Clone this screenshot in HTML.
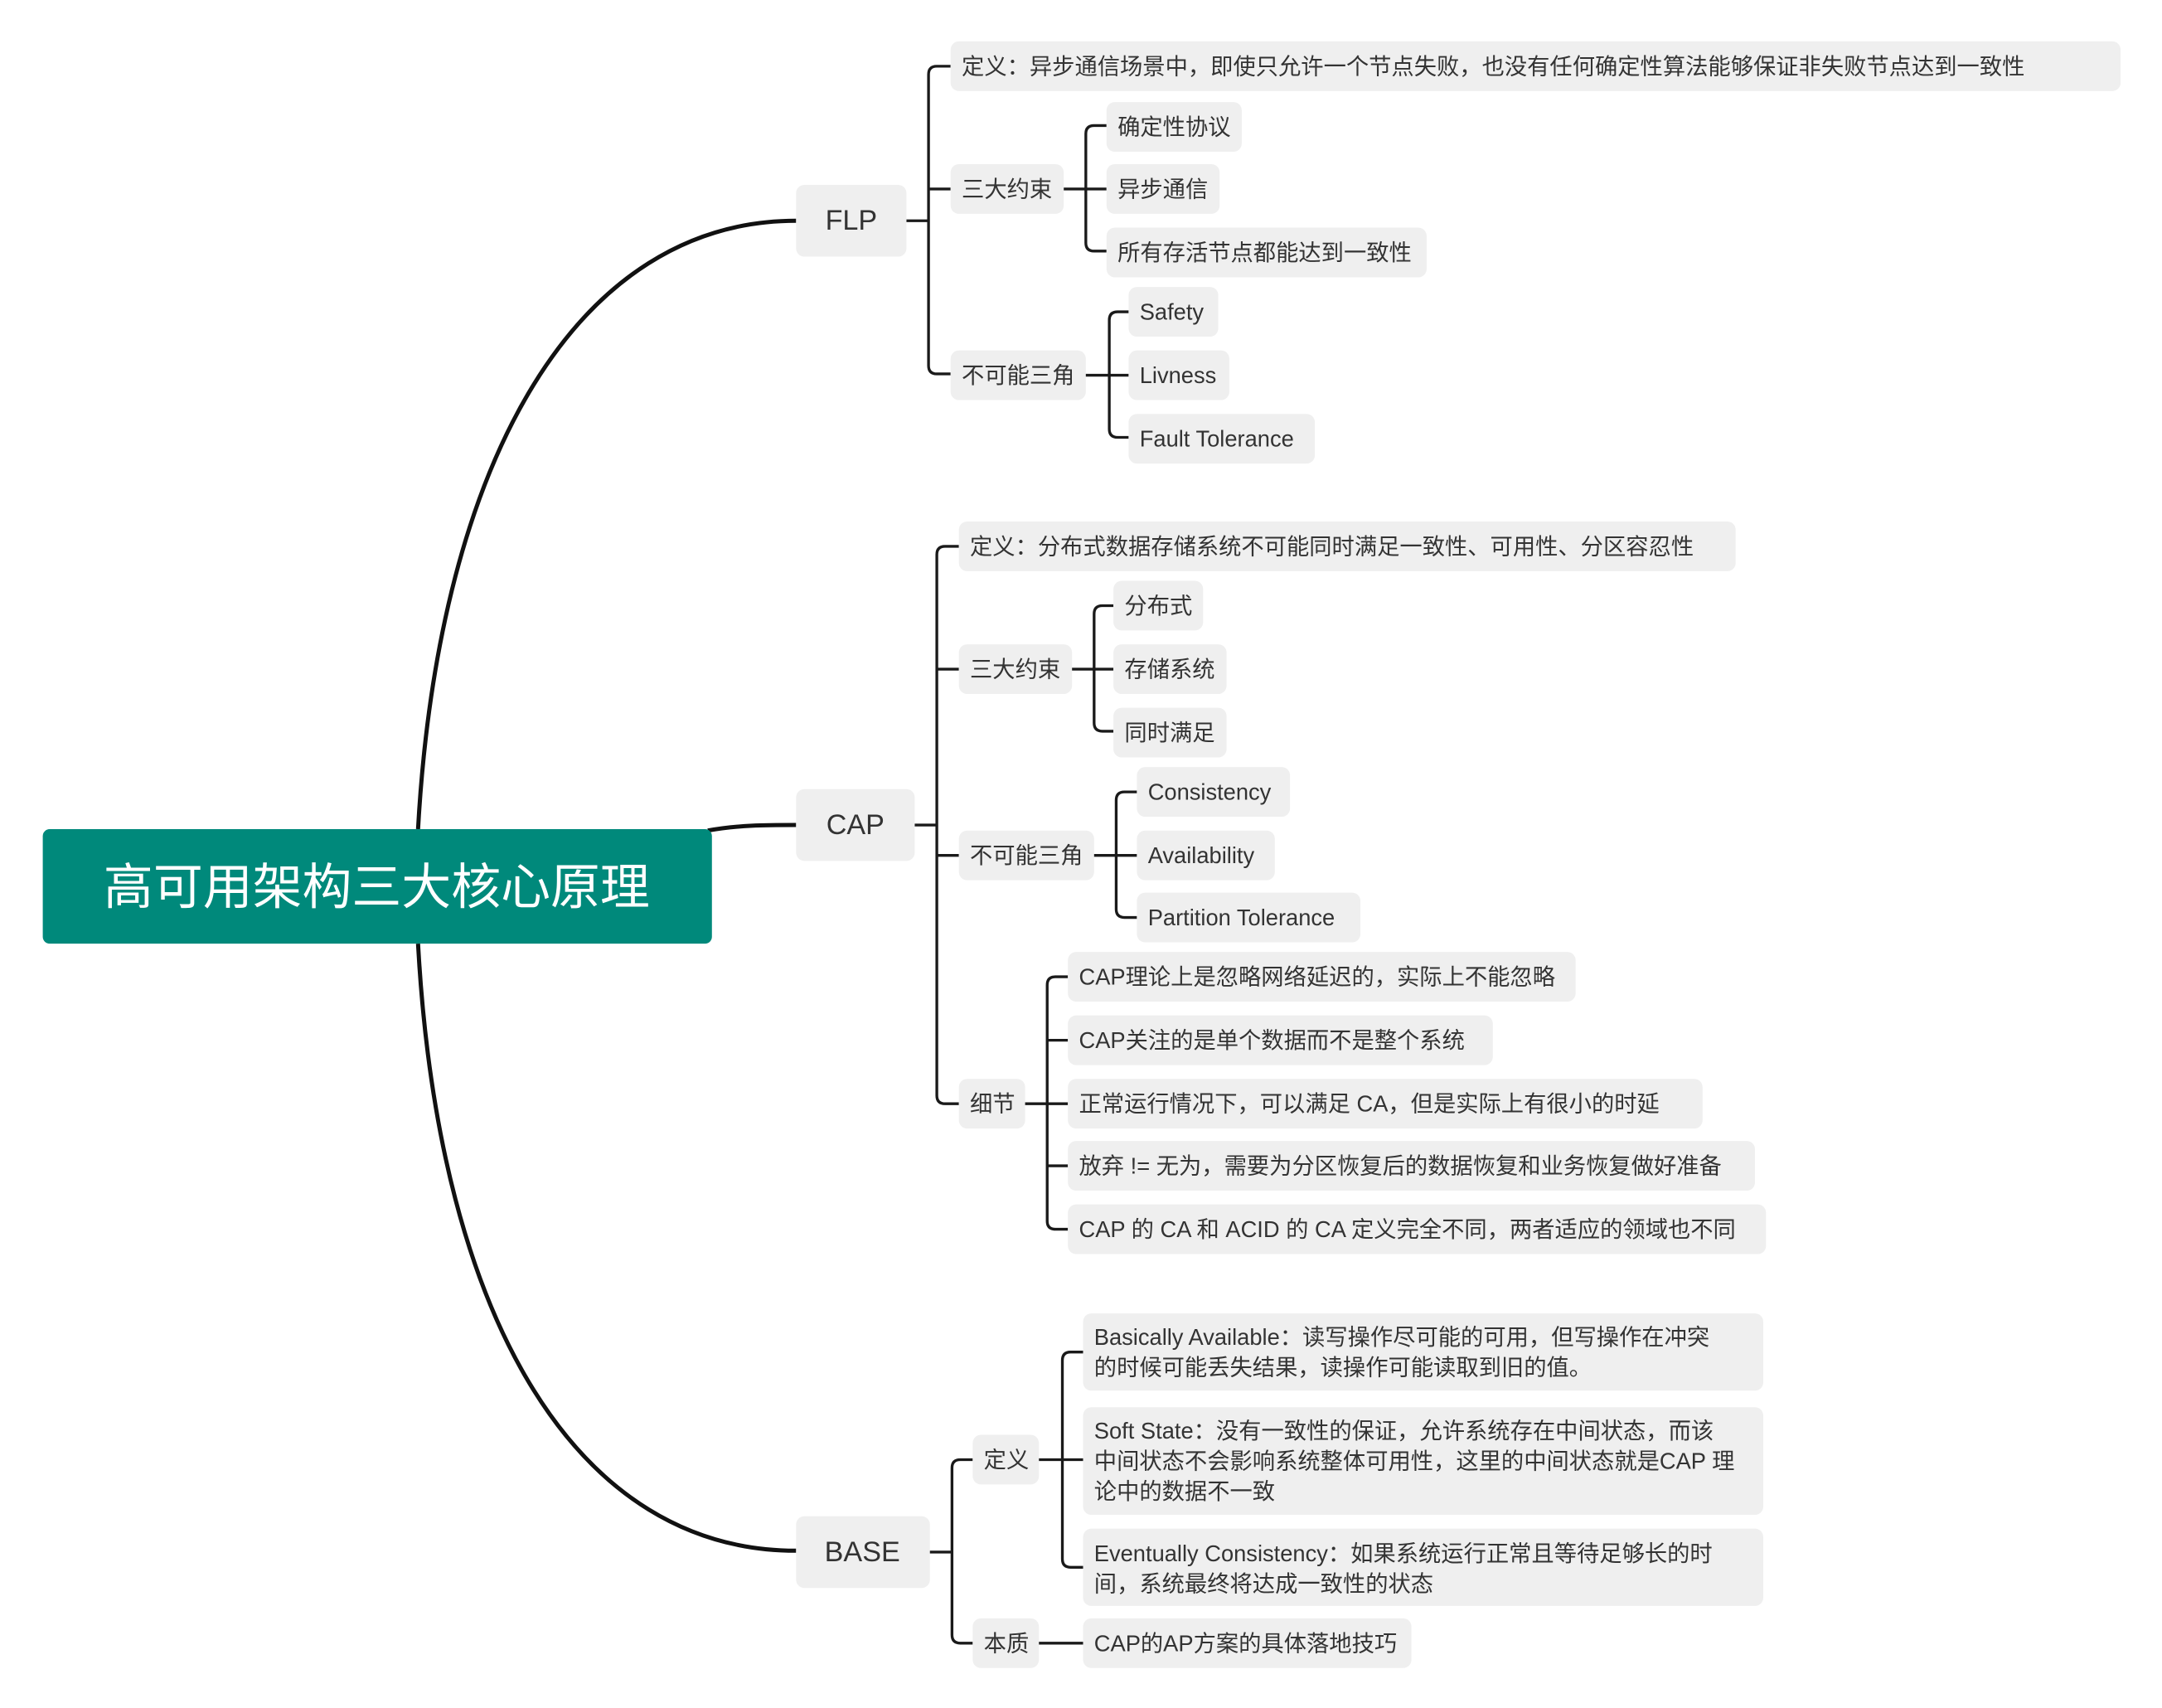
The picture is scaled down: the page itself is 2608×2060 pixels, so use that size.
<!DOCTYPE html>
<html><head><meta charset="utf-8">
<style>
html,body{margin:0;padding:0;background:#fff;}
svg{display:block;}
text{font-family:"Liberation Sans","Noto Sans CJK SC",sans-serif;fill:#333;}
.n{fill:#efefef;}
.t{font-size:16.4px;dominant-baseline:central;}
.m{font-size:20.5px;dominant-baseline:central;}
.l{fill:none;stroke:#1a1a1a;stroke-width:2;}
</style></head><body>
<svg width="2608" height="2060" viewBox="0 0 1567 1238" preserveAspectRatio="none" xmlns="http://www.w3.org/2000/svg">
<rect width="1567" height="1238" fill="#fff"/>
<path d="M303,601 C318,330 420,160 577,160" fill="none" stroke="#111" stroke-width="3"/>
<path d="M513,602 C535,598 555,598 577,598" fill="none" stroke="#111" stroke-width="3"/>
<path d="M303,684 C318,960 420,1124 577,1124" fill="none" stroke="#111" stroke-width="3"/>
<rect x="31" y="601" width="485" height="83" rx="5" fill="#00897b"/>
<text x="273" y="643" text-anchor="middle" dominant-baseline="central" style="font-size:36px;fill:#fff">高可用架构三大核心原理</text>

<rect class="n" x="577" y="134" width="80" height="52" rx="6"/><text class="m" x="617" y="160" text-anchor="middle">FLP</text>
<rect class="n" x="577" y="572" width="86" height="52" rx="6"/><text class="m" x="620" y="598" text-anchor="middle">CAP</text>
<rect class="n" x="577" y="1099" width="97" height="52" rx="6"/><text class="m" x="625" y="1125" text-anchor="middle">BASE</text>

<path class="l" d="M657,160 H673 M673,54 V265 M673,54 Q673,48 679,48 H689 M673,137 H689 M673,265 Q673,271 679,271 H689"/>
<rect class="n" x="689" y="30" width="848" height="36" rx="6"/><text class="t" x="697" y="48">定义：异步通信场景中，即使只允许一个节点失败，也没有任何确定性算法能够保证非失败节点达到一致性</text>
<rect class="n" x="689" y="119" width="82" height="36" rx="6"/><text class="t" x="697" y="137">三大约束</text>
<rect class="n" x="689" y="254" width="98" height="36" rx="6"/><text class="t" x="697" y="272">不可能三角</text>
<path class="l" d="M771,137 H787 M787,97 V176 M787,97 Q787,91 793,91 H802 M787,137 H802 M787,176 Q787,182 793,182 H802"/>
<rect class="n" x="802" y="74" width="98" height="36" rx="6"/><text class="t" x="810" y="92">确定性协议</text>
<rect class="n" x="802" y="119" width="82" height="36" rx="6"/><text class="t" x="810" y="137">异步通信</text>
<rect class="n" x="802" y="165" width="232" height="36" rx="6"/><text class="t" x="810" y="183">所有存活节点都能达到一致性</text>
<path class="l" d="M787,272 H804 M804,232 V311 M804,232 Q804,226 810,226 H818 M804,272 H818 M804,311 Q804,317 810,317 H818"/>
<rect class="n" x="818" y="208" width="65" height="36" rx="6"/><text class="t" x="826" y="226">Safety</text>
<rect class="n" x="818" y="254" width="73" height="36" rx="6"/><text class="t" x="826" y="272">Livness</text>
<rect class="n" x="818" y="300" width="135" height="36" rx="6"/><text class="t" x="826" y="318">Fault Tolerance</text>

<path class="l" d="M663,598 H679 M679,402 V794 M679,402 Q679,396 685,396 H695 M679,485 H695 M679,620 H695 M679,794 Q679,800 685,800 H695"/>
<rect class="n" x="695" y="378" width="563" height="36" rx="6"/><text class="t" x="703" y="396">定义：分布式数据存储系统不可能同时满足一致性、可用性、分区容忍性</text>
<rect class="n" x="695" y="467" width="82" height="36" rx="6"/><text class="t" x="703" y="485">三大约束</text>
<rect class="n" x="695" y="602" width="98" height="36" rx="6"/><text class="t" x="703" y="620">不可能三角</text>
<rect class="n" x="695" y="782" width="48" height="36" rx="6"/><text class="t" x="703" y="800">细节</text>
<path class="l" d="M777,485 H793 M793,445 V524 M793,445 Q793,439 799,439 H807 M793,485 H807 M793,524 Q793,530 799,530 H807"/>
<rect class="n" x="807" y="421" width="65" height="36" rx="6"/><text class="t" x="815" y="439">分布式</text>
<rect class="n" x="807" y="467" width="82" height="36" rx="6"/><text class="t" x="815" y="485">存储系统</text>
<rect class="n" x="807" y="513" width="82" height="36" rx="6"/><text class="t" x="815" y="531">同时满足</text>
<path class="l" d="M793,620 H809 M809,580 V659 M809,580 Q809,574 815,574 H824 M809,620 H824 M809,659 Q809,665 815,665 H824"/>
<rect class="n" x="824" y="556" width="111" height="36" rx="6"/><text class="t" x="832" y="574">Consistency</text>
<rect class="n" x="824" y="602" width="100" height="36" rx="6"/><text class="t" x="832" y="620">Availability</text>
<rect class="n" x="824" y="647" width="162" height="36" rx="6"/><text class="t" x="832" y="665">Partition Tolerance</text>
<path class="l" d="M743,800 H759 M759,714 V885 M759,714 Q759,708 765,708 H774 M759,754 H774 M759,800 H774 M759,845 H774 M759,885 Q759,891 765,891 H774"/>
<rect class="n" x="774" y="690" width="368" height="36" rx="6"/><text class="t" x="782" y="708">CAP理论上是忽略网络延迟的，实际上不能忽略</text>
<rect class="n" x="774" y="736" width="308" height="36" rx="6"/><text class="t" x="782" y="754">CAP关注的是单个数据而不是整个系统</text>
<rect class="n" x="774" y="782" width="460" height="36" rx="6"/><text class="t" x="782" y="800">正常运行情况下，可以满足 CA，但是实际上有很小的时延</text>
<rect class="n" x="774" y="827" width="498" height="36" rx="6"/><text class="t" x="782" y="845">放弃 != 无为，需要为分区恢复后的数据恢复和业务恢复做好准备</text>
<rect class="n" x="774" y="873" width="506" height="36" rx="6"/><text class="t" x="782" y="891">CAP 的 CA 和 ACID 的 CA 定义完全不同，两者适应的领域也不同</text>

<path class="l" d="M674,1125 H690 M690,1064 V1185 M690,1064 Q690,1058 696,1058 H705 M690,1185 Q690,1191 696,1191 H705"/>
<rect class="n" x="705" y="1040" width="48" height="36" rx="6"/><text class="t" x="713" y="1058">定义</text>
<rect class="n" x="705" y="1173" width="48" height="36" rx="6"/><text class="t" x="713" y="1191">本质</text>
<path class="l" d="M753,1058 H770 M770,986 V1130 M770,986 Q770,980 776,980 H785 M770,1058 H785 M770,1130 Q770,1136 776,1136 H785"/>
<rect class="n" x="785" y="952" width="493" height="56" rx="6"/>
<text class="t" x="793" y="969">Basically Available：读写操作尽可能的可用，但写操作在冲突</text>
<text class="t" x="793" y="991">的时候可能丢失结果，读操作可能读取到旧的值。</text>
<rect class="n" x="785" y="1020" width="493" height="78" rx="6"/>
<text class="t" x="793" y="1037">Soft State：没有一致性的保证，允许系统存在中间状态，而该</text>
<text class="t" x="793" y="1059">中间状态不会影响系统整体可用性，这里的中间状态就是CAP 理</text>
<text class="t" x="793" y="1081">论中的数据不一致</text>
<rect class="n" x="785" y="1108" width="493" height="56" rx="6"/>
<text class="t" x="793" y="1126">Eventually Consistency：如果系统运行正常且等待足够长的时</text>
<text class="t" x="793" y="1148">间，系统最终将达成一致性的状态</text>
<path class="l" d="M753,1191 H785"/>
<rect class="n" x="785" y="1173" width="238" height="36" rx="6"/><text class="t" x="793" y="1191">CAP的AP方案的具体落地技巧</text>
</svg>
</body></html>
